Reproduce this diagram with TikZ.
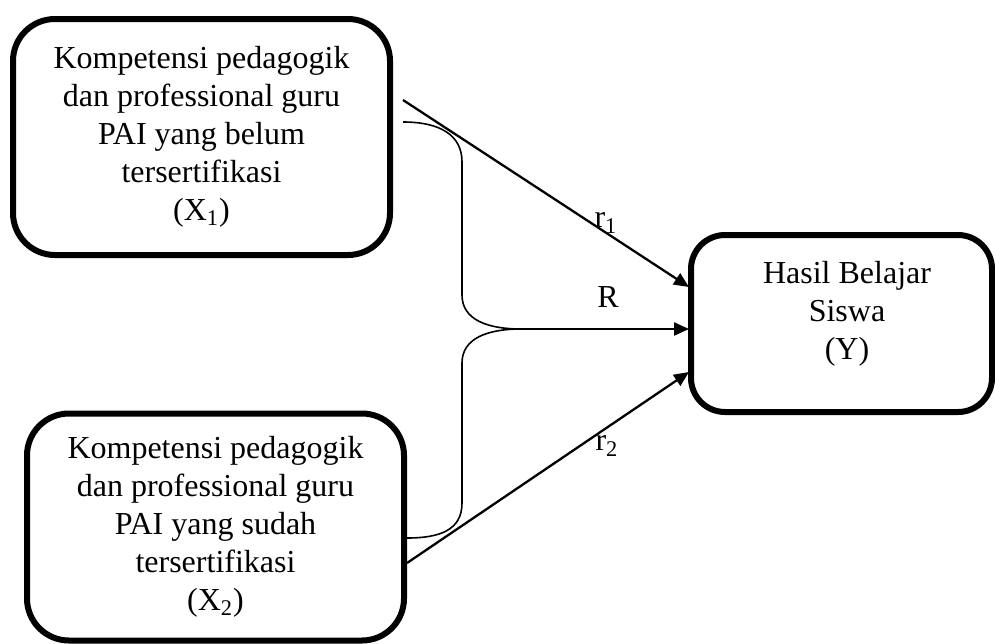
\documentclass[tikz,border=0pt]{standalone}
\usepackage{fontspec}
\setmainfont{Liberation Serif}
\usetikzlibrary{arrows.meta}
\begin{document}
\begin{tikzpicture}[x=0.5pt,y=-0.5pt,
  box/.style={draw,line width=3pt,rounded corners=21pt,inner sep=0pt,outer sep=0pt,
    align=center,font=\fontsize{16}{19}\selectfont},
  txt/.style={align=center,font=\fontsize{16}{19}\selectfont,inner sep=0pt},
  conn/.style={line width=1.15pt,-{Triangle[length=7.5pt,width=6.5pt]}},
  bracep/.style={line width=0.8pt}]
\useasboundingbox (0,0) rectangle (995,643);
\begin{scope}
\clip (0,0) rectangle (995,643);
\node[box,minimum width=188.5pt,minimum height=118pt] (x1) at (201.5,137)
  {Kompetensi pedagogik\\dan professional guru\\PAI yang belum\\tersertifikasi\\(X\textsubscript{1})};
\node[box,minimum width=188.5pt,minimum height=113.5pt] (x2) at (215.5,527)
  {Kompetensi pedagogik\\dan professional guru\\PAI yang sudah\\tersertifikasi\\(X\textsubscript{2})};
\node[box,rounded corners=17pt,minimum width=150.5pt,minimum height=88.5pt] (y) at (841.5,323.5) {};
\end{scope}
\node[txt] (ytext) at (847,314) {Hasil Belajar\\Siswa\\(Y)};
% connector end points
\coordinate (s1) at (403,100);
\coordinate (e1) at (689,287);
\coordinate (tip) at (521,329);
\coordinate (eR) at (689,329);
\coordinate (s2) at (407,563);
\coordinate (e2) at (689,372);
\coordinate (b1) at (403,122);
\coordinate (b2) at (407,538);
\draw[conn] (s1) -- (e1);
\draw[conn] (tip) -- (eR);
\draw[conn] (s2) -- (e2);
\draw[bracep] (b1) .. controls (440,122) and (462,135) .. (462,162)
  -- (462,295) .. controls (462,320) and (488,329) .. (tip)
  .. controls (488,329) and (462,338) .. (462,363)
  -- (462,503) .. controls (462,530) and (440,538) .. (b2);
\node[txt] (r1) at (606,223) {r\textsubscript{1}};
\node[txt] (R) at (608,297) {R};
\node[txt] (r2) at (607,446) {r\textsubscript{2}};
\end{tikzpicture}
\end{document}
